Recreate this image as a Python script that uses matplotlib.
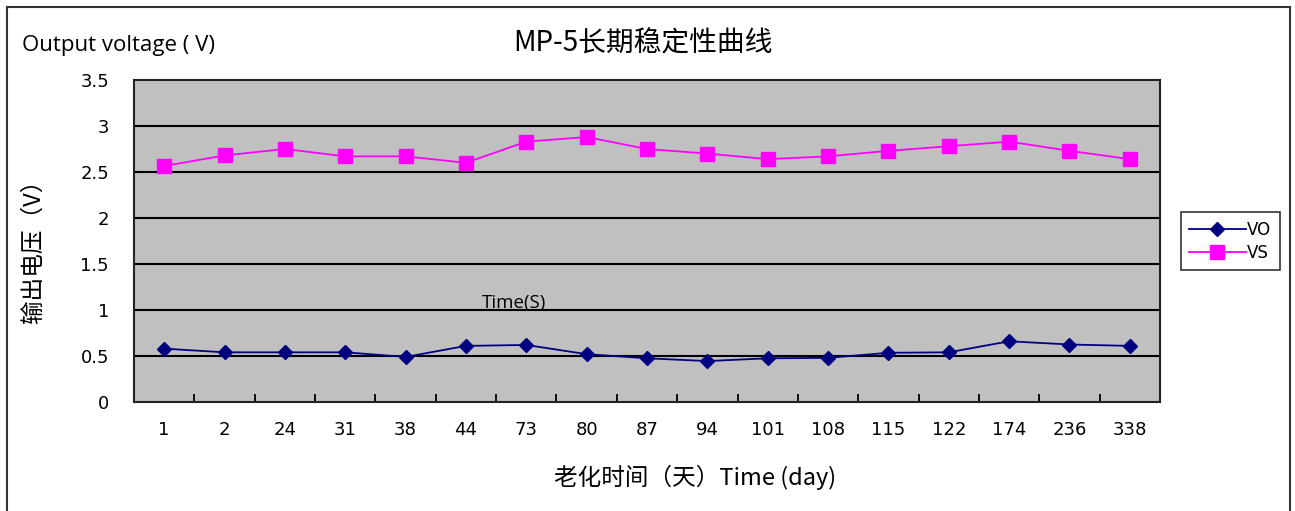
import numpy as np
import matplotlib
matplotlib.use("Agg")
import matplotlib.pyplot as plt
from matplotlib.lines import Line2D

plt.rcParams['font.family'] = ['Noto Sans CJK SC', 'DejaVu Sans']

# data
days = ["1", "2", "24", "31", "38", "44", "73", "80", "87", "94",
        "101", "108", "115", "122", "174", "236", "338"]
vo = [0.58, 0.54, 0.54, 0.54, 0.49, 0.61, 0.62, 0.52, 0.475, 0.445,
      0.475, 0.48, 0.535, 0.54, 0.66, 0.625, 0.61]
vs = [2.565, 2.68, 2.75, 2.67, 2.67, 2.60, 2.83, 2.88, 2.75, 2.70,
      2.64, 2.67, 2.73, 2.78, 2.83, 2.73, 2.64]
yticks = [0, 0.5, 1, 1.5, 2, 2.5, 3, 3.5]

W, H = 1295, 511
fig = plt.figure(figsize=(W / 100, H / 100), dpi=100)
ax = fig.add_axes([134 / W, 1 - 402 / H, (1160 - 134) / W, (402 - 80) / H])
ax.set_facecolor("#C0C0C0")

x = np.arange(len(days))
ax.plot(x, vo, color="#000080", marker="D", markersize=7, lw=1.3,
        label="VO", zorder=3)
ax.plot(x, vs, color="#FF00FF", marker="s", markersize=10.5, lw=1.3,
        label="VS", zorder=3)

ax.set_xlim(-0.5, len(days) - 0.5)
ax.set_ylim(0, 3.5)
ax.set_yticks(yticks)
ax.set_yticklabels([f"{v:g}" for v in yticks], fontsize=13,
                   family="DejaVu Sans")
for v in yticks[1:-1]:
    ax.axhline(v, color="black", lw=1.5, zorder=1)

# category labels centred, tick marks on boundaries
ax.set_xticks(x)
ax.set_xticklabels(days, fontsize=13, family="DejaVu Sans")
ax.tick_params(axis="x", which="major", length=0, pad=14)
ax.set_xticks(np.arange(0.5, len(days) - 1, 1), minor=True)
ax.tick_params(axis="x", which="minor", direction="in", length=6, width=1.3)
ax.tick_params(axis="y", length=0, pad=18)
for s in ax.spines.values():
    s.set_linewidth(1.5)
    s.set_color("#222222")

leg = ax.legend(loc="center left", bbox_to_anchor=(1.012, 0.5),
                prop={"family": "DejaVu Sans", "size": 12},
                frameon=True, fancybox=False, edgecolor="black",
                borderpad=0.5, handlelength=3.4, handletextpad=0.1,
                labelspacing=0.3, borderaxespad=0.5)
leg.get_frame().set_linewidth(1.2)

fig.text(643 / W, 1 - 43 / H, "MP-5长期稳定性曲线", fontsize=20,
         ha="center", va="center")
fig.text(22 / W, 1 - 45 / H, "Output voltage ( V)", fontsize=16,
         ha="left", va="center", family=["Open Sans", "DejaVu Sans"])
fig.text(33 / W, 1 - 245 / H, "输出电压（V）", fontsize=17, rotation=90,
         ha="center", va="center")
fig.text(695 / W, 1 - 477 / H, "老化时间（天）Time (day)", fontsize=17,
         ha="center", va="center")
fig.text(514 / W, 1 - 303 / H, "Time(S)", fontsize=13.5,
         ha="center", va="center", family=["Open Sans", "DejaVu Sans"])

# outer chart frame
for xs, ys in [([7, 7], [H, 7]), ([7, 1290], [7, 7]), ([1290, 1290], [7, H])]:
    fig.add_artist(Line2D([v / W for v in xs], [1 - v / H for v in ys],
                          color="#333333", lw=1.5))

fig.savefig("out.png", dpi=100)
